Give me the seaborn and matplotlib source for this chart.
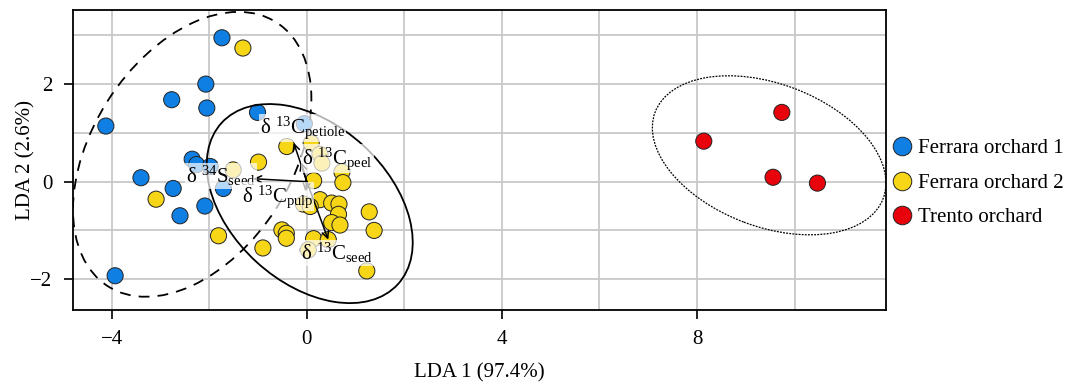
import matplotlib
matplotlib.use("Agg")
import matplotlib.pyplot as plt
import numpy as np
import pandas as pd
import seaborn as sns
from matplotlib.patches import Ellipse

# LDA scores
ferrara1_x = [-1.74, -2.07, -2.77, -2.05, -1.01, -4.12, -0.05, -2.35, -2.26, -1.98,
              -3.40, -2.74, -1.71, -2.09, -2.60, -3.93]
ferrara1_y = [2.95, 2.00, 1.68, 1.51, 1.42, 1.14, 1.19, 0.46, 0.35, 0.31,
              0.08, -0.14, -0.14, -0.50, -0.70, -1.93]

ferrara2_x = [-1.31, -3.09, -1.81, -1.51, -0.99, -0.41, 0.09, 0.27, 0.31, 0.72,
              0.74, 0.14, 0.27, -0.07, 0.07, 0.51, 0.66, 0.65, 0.51, 0.68,
              1.28, 1.38, -0.51, -0.42, -0.42, -0.90, 0.14, 0.44, 0.03, 1.23]
ferrara2_y = [2.74, -0.36, -1.11, 0.24, 0.40, 0.72, 0.79, 0.56, 0.38, 0.20,
              -0.02, 0.02, -0.37, -0.46, -0.51, -0.44, -0.46, -0.67, -0.84, -0.89,
              -0.62, -1.00, -0.99, -1.06, -1.16, -1.36, -1.17, -1.19, -1.40, -1.83]

trento_x = [8.14, 9.74, 9.56, 10.47]
trento_y = [0.83, 1.42, 0.09, -0.03]

groups = ["Ferrara orchard 1", "Ferrara orchard 2", "Trento orchard"]
colors = ["#0F7FE3", "#F6D617", "#E8030C"]

# ellipses: centre x, centre y, width, height, angle
ell_cx = [-2.35, 0.06, 9.48]
ell_cy = [0.56, -0.45, 0.54]
ell_w = [6.42, 4.90, 5.00]
ell_h = [4.10, 3.24, 2.93]
ell_angle = [57.4, -42.5, -20.7]
ell_style = [(0, (6, 4.5)), "-", (0, (1.5, 1))]
ell_lw = [1.3, 1.3, 0.9]

# variable loadings (arrow tips)
load_names = [r"$\mathrm{δ\ ^{34}S_{seed}}$", r"$\mathrm{δ\ ^{13}C_{petiole}}$",
              r"$\mathrm{δ\ ^{13}C_{peel}}$", r"$\mathrm{δ\ ^{13}C_{pulp}}$",
              r"$\mathrm{δ\ ^{13}C_{seed}}$"]
load_x = [-1.10, -0.27, -0.12, -0.03, 0.44]
load_y = [0.06, 0.80, 0.40, -0.20, -1.19]
# label centres
lab_x = [-1.76, -0.09, 0.63, -0.60, 0.62]
lab_y = [0.12, 1.10, 0.48, -0.31, -1.47]

df = pd.DataFrame({
    "LDA1": ferrara1_x + ferrara2_x + trento_x,
    "LDA2": ferrara1_y + ferrara2_y + trento_y,
    "group": [groups[0]] * len(ferrara1_x) + [groups[1]] * len(ferrara2_x)
    + [groups[2]] * len(trento_x),
})

sns.set_theme(style="ticks")
plt.rcParams["font.family"] = ["Liberation Serif", "DejaVu Serif"]
plt.rcParams["mathtext.fontset"] = "custom"
plt.rcParams["mathtext.rm"] = "Liberation Serif"
plt.rcParams["mathtext.it"] = "Liberation Serif:italic"
plt.rcParams["text.color"] = "black"
plt.rcParams["axes.labelcolor"] = "black"
plt.rcParams["xtick.color"] = "black"
plt.rcParams["ytick.color"] = "black"

fig, ax = plt.subplots(figsize=(10.69, 3.84), dpi=100)
fig.subplots_adjust(left=0.068, right=0.829, top=0.974, bottom=0.193)

sns.scatterplot(data=df, x="LDA1", y="LDA2", hue="group", hue_order=groups,
                palette=colors, s=135, edgecolor="#222222", linewidth=0.7,
                ax=ax, zorder=3)

for i in range(3):
    ax.add_patch(Ellipse((ell_cx[i], ell_cy[i]), ell_w[i], ell_h[i], angle=ell_angle[i],
                         fill=False, edgecolor="black", linestyle=ell_style[i],
                         linewidth=ell_lw[i], zorder=4))

for i in range(len(load_names)):
    ax.annotate("", xy=(load_x[i], load_y[i]), xytext=(0, 0),
                arrowprops=dict(arrowstyle="->", color="black", lw=1.1,
                                shrinkA=0, shrinkB=0, mutation_scale=12),
                zorder=5)
    ax.text(lab_x[i], lab_y[i], load_names[i], ha="center", va="center",
            fontsize=15, zorder=6,
            bbox=dict(boxstyle="square,pad=0.05", facecolor="white",
                      edgecolor="none", alpha=0.7))

ax.set_xlim(-4.80, 11.88)
ax.set_ylim(-2.63, 3.52)
ax.set_xticks([-4, 0, 4, 8])
ax.set_yticks([-2, 0, 2])
ax.set_xticks(np.arange(-4, 11, 2), minor=True)
ax.set_yticks(np.arange(-2, 4, 1), minor=True)
ax.set_xticklabels(["\u22124", "0", "4", "8"])
ax.set_yticklabels(["\u22122", "0", "2"])
ax.tick_params(axis="both", which="major", labelsize=15, length=6.5, width=1.2,
               direction="out", pad=8)
ax.tick_params(axis="both", which="minor", length=0)
ax.grid(True, which="both", color="#c8c8c8", linewidth=1.3, zorder=0)
ax.set_axisbelow(True)
for sp in ax.spines.values():
    sp.set_linewidth(1.3)
    sp.set_color("black")

ax.set_xlabel("LDA 1 (97.4%)", fontsize=15, labelpad=10)
ax.set_ylabel("LDA 2 (2.6%)", fontsize=15, labelpad=-4)

leg = ax.legend(loc="center left", bbox_to_anchor=(1.0, 0.423), frameon=False,
                fontsize=15, handletextpad=0.3, handlelength=1.0, labelspacing=0.72,
                borderaxespad=0.0, borderpad=0.25, markerscale=1.15)
for h in leg.legend_handles:
    h.set_markeredgecolor("#222222")

fig.savefig("out.png", dpi=100)
